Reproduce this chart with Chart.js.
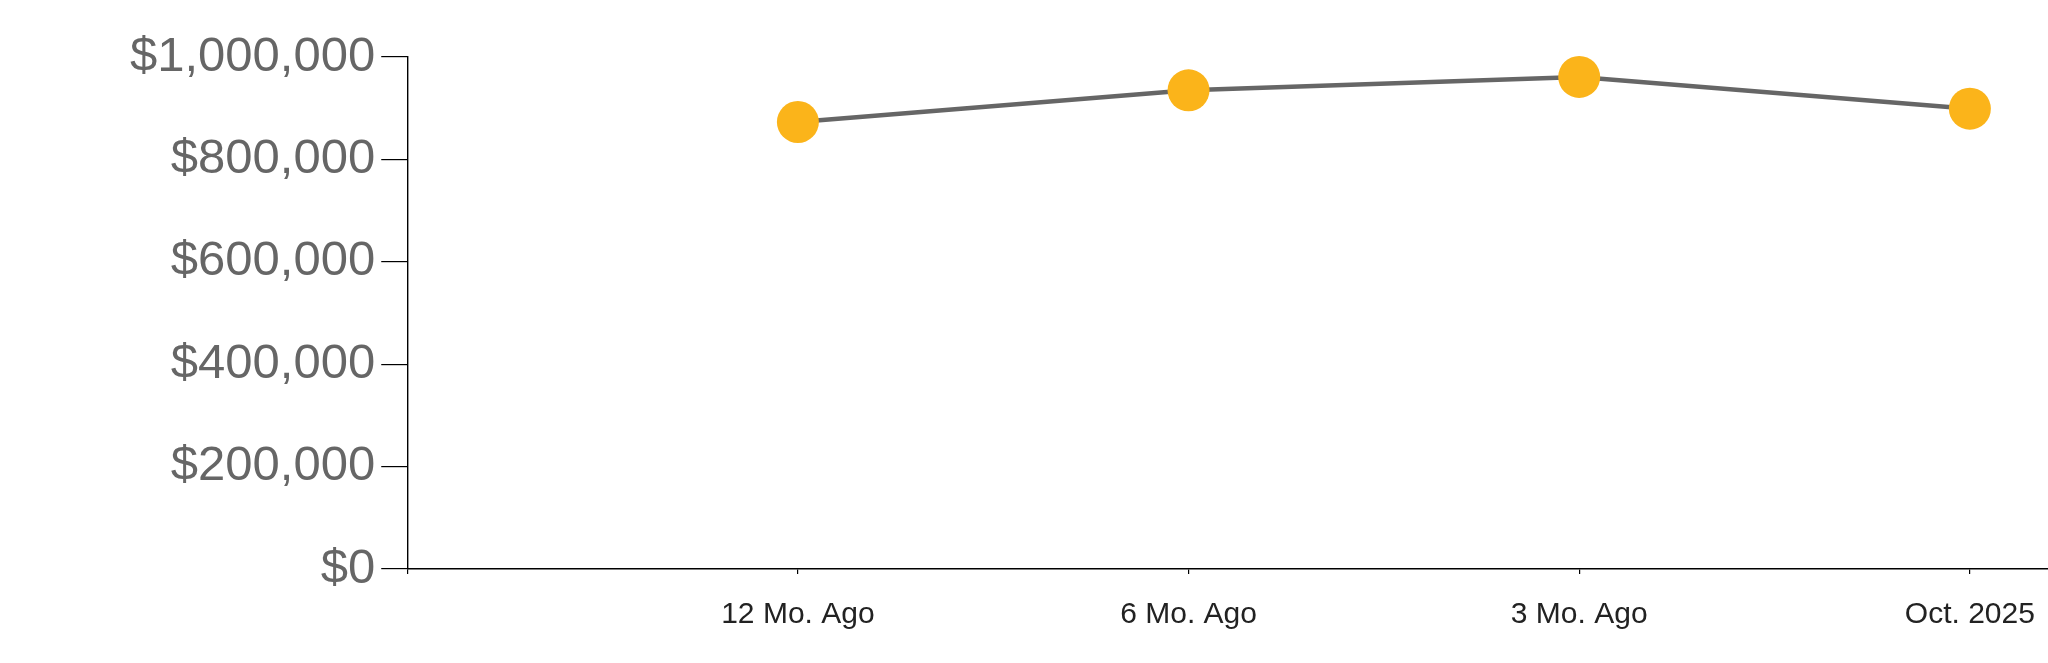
<!DOCTYPE html>
<html>
<head>
<meta charset="utf-8">
<script src="https://cdn.jsdelivr.net/npm/chart.js@4/dist/chart.umd.min.js"></script>
<style>
  html, body { margin: 0; padding: 0; background: #fff; overflow: hidden; }
  #wrap { width: 2048px; height: 663px; position: relative; }
  canvas { display: block; }
</style>
</head>
<body>
<div id="wrap"><canvas id="priceChart"></canvas></div>
<script>
// median price
var categories = ['12 Mo. Ago', '6 Mo. Ago', '3 Mo. Ago', 'Oct. 2025'];
var prices = [873000, 935000, 961000, 899000];
var yTicks = [0, 200000, 400000, 600000, 800000, 1000000];

var points = prices.map((v, i) => ({ x: i + 1, y: v }));

Chart.defaults.font.family = "'Liberation Sans', Arial, sans-serif";

new Chart(document.getElementById('priceChart'), {
  type: 'line',
  data: {
    datasets: [{
      data: points,
      clip: false,
      borderColor: '#666666',
      borderWidth: 4.5,
      backgroundColor: '#FBB41A',
      pointBackgroundColor: '#FBB41A',
      pointBorderColor: '#FBB41A',
      pointBorderWidth: 0,
      pointRadius: 21,
      pointHoverRadius: 21,
      tension: 0
    }]
  },
  options: {
    responsive: true,
    maintainAspectRatio: false,
    animation: false,
    // no extra room for the big points, the plot runs to the right edge
    layout: { autoPadding: false, padding: { left: 124, top: 57, right: 0, bottom: 7 } },
    plugins: { legend: { display: false }, tooltip: { enabled: false } },
    scales: {
      x: {
        type: 'linear',
        min: 0, max: 4.2,
        afterFit: (axis) => { axis.paddingRight = 0; },
        border: { color: '#000', width: 1.4 },
        grid: { drawOnChartArea: false, color: '#000', lineWidth: 1.2, tickLength: 5 },
        ticks: {
          stepSize: 1,
          includeBounds: false,
          autoSkip: false,
          maxRotation: 0,
          padding: 23,
          color: '#222',
          font: { size: 30 },
          callback: (v) => (v >= 1 && Number.isInteger(v)) ? categories[v - 1] : ''
        }
      },
      y: {
        min: 0, max: 1000000,
        afterBuildTicks: (axis) => { axis.ticks = yTicks.map(v => ({ value: v })); },
        border: { color: '#000', width: 1.4 },
        grid: { drawOnChartArea: false, color: '#000', lineWidth: 1.2, tickLength: 26 },
        ticks: {
          padding: 6,
          color: '#666',
          font: { size: 49 },
          callback: (v) => '$' + v.toLocaleString('en-US')
        }
      }
    }
  }
});
</script>
</body>
</html>
